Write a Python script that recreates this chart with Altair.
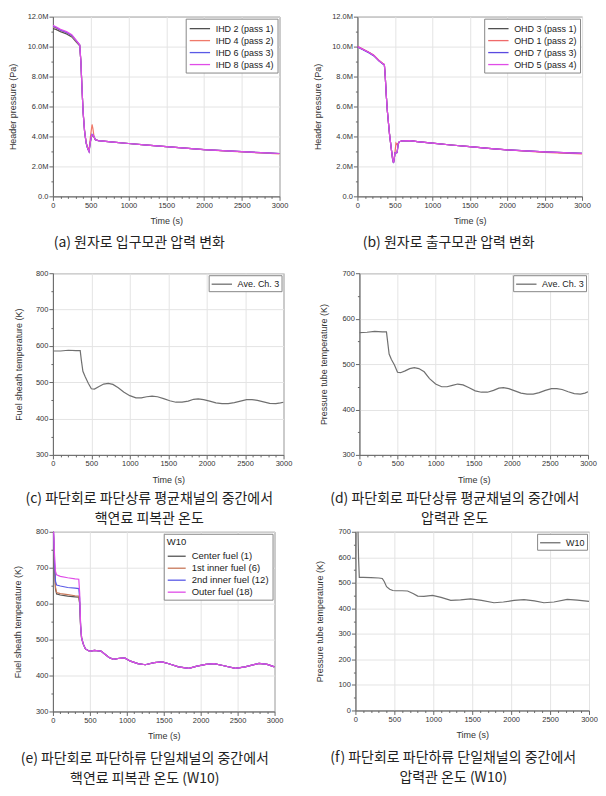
import altair as alt
import pandas as pd

FONT = "Liberation Sans"
KFONT = "Noto Sans CJK KR"

# ---------------- (a) inlet header pressure (values in M = 1e6 Pa)
time_a = [0, 40, 100, 180, 250, 310, 355, 370, 385, 400, 420, 440, 460, 478, 495, 510, 518, 530, 545, 562,
          600, 800, 1000, 1250, 1500, 1750, 2000, 2250, 2500, 2750, 3000]
ihd_2 = [11.20, 11.15, 11.00, 10.85, 10.65, 10.30, 10.05, 9.00, 7.20, 5.60, 4.30, 3.55, 3.20, 3.00, 3.60, 3.95,
         4.05, 4.05, 3.95, 3.78, 3.72, 3.62, 3.53, 3.42, 3.32, 3.22, 3.12, 3.05, 2.98, 2.92, 2.86]
ihd_4 = [11.30, 11.25, 11.08, 10.92, 10.72, 10.35, 10.10, 9.00, 7.20, 5.60, 4.30, 3.60, 3.30, 3.05, 3.90, 4.50,
         4.80, 4.50, 3.95, 3.80, 3.72, 3.62, 3.53, 3.42, 3.32, 3.22, 3.12, 3.04, 2.97, 2.90, 2.84]
ihd_6 = [11.35, 11.28, 11.10, 10.95, 10.75, 10.38, 10.10, 9.00, 7.20, 5.60, 4.30, 3.55, 3.20, 3.00, 3.65, 4.05,
         4.15, 4.10, 4.00, 3.78, 3.72, 3.62, 3.53, 3.42, 3.32, 3.22, 3.12, 3.05, 2.98, 2.92, 2.86]
ihd_8 = [11.42, 11.33, 11.15, 11.00, 10.80, 10.42, 10.12, 9.00, 7.20, 5.60, 4.30, 3.55, 3.20, 2.98, 3.60, 4.00,
         4.10, 4.10, 4.00, 3.78, 3.72, 3.62, 3.53, 3.42, 3.32, 3.22, 3.12, 3.05, 2.98, 2.92, 2.86]
names_a = ["IHD 2 (pass 1)", "IHD 4 (pass 2)", "IHD 6 (pass 3)", "IHD 8 (pass 4)"]
colors_a = ["#505050", "#f07a6a", "#5a5ae6", "#e04ce8"]

# ---------------- (b) outlet header pressure
time_b = [0, 60, 155, 220, 290, 340, 360, 372, 385, 400, 430, 457, 470, 482, 492, 502, 515, 530, 545, 560,
          600, 700, 800, 1000, 1250, 1500, 1750, 2000, 2250, 2500, 2750, 3000]
ohd_3 = [10.00, 9.85, 9.60, 9.40, 9.05, 8.85, 8.80, 8.00, 6.80, 5.70, 4.10, 3.00, 2.50, 2.25, 2.50, 2.90, 2.90,
         2.92, 3.50, 3.65, 3.70, 3.72, 3.66, 3.55, 3.43, 3.32, 3.20, 3.10, 3.03, 2.97, 2.92, 2.87]
ohd_1 = [10.02, 9.87, 9.62, 9.42, 9.07, 8.87, 8.82, 8.00, 6.80, 5.70, 4.10, 3.00, 2.50, 2.25, 2.55, 2.95, 3.55,
         3.45, 3.55, 3.65, 3.70, 3.72, 3.66, 3.55, 3.43, 3.32, 3.20, 3.10, 3.01, 2.94, 2.88, 2.83]
ohd_7 = [9.98, 9.83, 9.58, 9.38, 9.03, 8.83, 8.78, 8.00, 6.80, 5.70, 4.10, 3.00, 2.50, 2.22, 2.50, 2.90, 2.90,
         2.92, 3.50, 3.65, 3.70, 3.72, 3.66, 3.55, 3.43, 3.32, 3.20, 3.10, 3.03, 2.97, 2.92, 2.87]
ohd_5 = [10.00, 9.85, 9.60, 9.40, 9.05, 8.85, 8.80, 8.00, 6.80, 5.70, 4.10, 3.00, 2.50, 2.25, 2.50, 2.90, 2.90,
         2.92, 3.50, 3.65, 3.70, 3.72, 3.66, 3.55, 3.43, 3.32, 3.20, 3.10, 3.03, 2.97, 2.92, 2.87]
names_b = ["OHD 3 (pass 1)", "OHD 1 (pass 2)", "OHD 7 (pass 3)", "OHD 5 (pass 4)"]
colors_b = ["#505050", "#f06a6a", "#5a4ae0", "#e04ce8"]

# ---------------- (c) fuel sheath temp / (d) pressure tube temp, Ave. Ch. 3
time_cd = [0, 100, 200, 300, 355, 370, 390, 420, 460, 500, 540, 600, 660, 720, 780, 850, 920, 1000, 1080, 1150,
           1220, 1290, 1360, 1440, 1520, 1600, 1680, 1760, 1830, 1890, 1960, 2040, 2120, 2200, 2280, 2360, 2440,
           2520, 2590, 2660, 2740, 2820, 2900, 2960, 3000]
sheath_c = [586, 586, 588, 587, 587, 560, 530, 515, 497, 482, 481, 488, 495, 497, 494, 485, 473, 463, 457, 457,
            460, 462, 460, 455, 449, 445, 445, 448, 453, 454, 452, 448, 443, 441, 441, 444, 448, 452, 452, 450,
            446, 442, 441, 443, 445]
tube_d = [569, 570, 572, 571, 571, 550, 522, 510, 498, 482, 481, 485, 490, 492, 490, 483, 468, 456, 450, 450,
          453, 456, 454, 448, 441, 438, 438, 442, 447, 448, 446, 441, 436, 434, 434, 437, 442, 446, 446, 444,
          439, 435, 434, 436, 439]
names_cd = ["Ave. Ch. 3"]

# ---------------- (e) fuel sheath temp, W10
time_e = [0, 10, 22, 35, 50, 100, 200, 300, 350, 362, 375, 388, 410, 440, 500, 560, 650, 700, 760, 820, 900,
          970, 1050, 1150, 1250, 1370, 1480, 1580, 1700, 1840, 1950, 2070, 2180, 2300, 2470, 2600, 2790, 2900, 3000]
center_1 = [830, 780, 700, 640, 627, 624, 621, 619, 618, 600, 535, 505, 488, 474, 467, 470, 468, 460, 450, 445,
            448, 449, 440, 433, 430, 436, 438, 432, 424, 420, 426, 431, 433, 428, 420, 424, 434, 431, 424]
inner1_6 = [830, 785, 705, 645, 631, 628, 625, 622, 621, 603, 536, 505, 488, 474, 467, 470, 468, 460, 450, 445,
            448, 449, 440, 433, 430, 436, 438, 432, 424, 420, 426, 431, 433, 428, 420, 424, 434, 431, 424]
inner2_12 = [830, 790, 712, 662, 652, 649, 645, 643, 642, 615, 538, 505, 488, 474, 467, 470, 468, 460, 450, 445,
             448, 449, 440, 433, 430, 436, 438, 432, 424, 420, 426, 431, 433, 428, 420, 424, 434, 431, 424]
outer_18 = [830, 800, 735, 690, 680, 676, 672, 669, 668, 630, 540, 505, 488, 474, 467, 470, 468, 460, 450, 445,
            448, 449, 440, 433, 430, 436, 438, 432, 424, 420, 426, 431, 433, 428, 420, 424, 434, 431, 424]
names_e = ["Center fuel (1)", "1st inner fuel (6)", "2nd inner fuel (12)", "Outer fuel (18)"]
colors_e = ["#555555", "#c8785a", "#5a5ae6", "#e04ce8"]

# ---------------- (f) pressure tube temp, W10
time_f = [0, 5, 12, 30, 40, 50, 100, 200, 300, 345, 370, 400, 440, 480, 520, 600, 670, 740, 800, 880, 990, 1100,
          1225, 1350, 1480, 1620, 1780, 1900, 2037, 2165, 2300, 2421, 2550, 2720, 2850, 3000]
tube_f = [590, 720, 760, 760, 600, 521, 521, 520, 519, 517, 505, 485, 475, 470, 469, 469, 468, 458, 448, 447, 451,
          443, 431, 433, 437, 431, 422, 425, 431, 434, 429, 422, 425, 435, 432, 427]
names_f = ["W10"]

GREY = ["#707070"]


def to_long(t, names, series):
    rows = []
    for n, vals in zip(names, series):
        for tt, vv in zip(t, vals):
            rows.append({"t": tt, "v": vv, "s": n})
    return pd.DataFrame(rows)


def cond(step, major, minor):
    return {"condition": {"test": f"datum.value % {step} === 0", "value": major}, "value": minor}


def make_legend(path, label_offset, title=None, fs=9, pad=3):
    kw = dict(orient="top-right", symbolType=path, symbolSize=144, symbolStrokeWidth=1.3,
              strokeColor="#888", fillColor="white", padding=pad, offset=2, labelFont=FONT,
              labelFontSize=fs, labelColor="#222", rowPadding=0, labelOffset=label_offset)
    if title:
        kw.update(title=title, titleFont=FONT, titleFontSize=9.5, titleFontWeight="normal",
                  titleColor="#222", titlePadding=3)
    return alt.Legend(**kw)


def panel(df, names, colors, ydomain, yvals, ystep, ytitle, ylabel_expr, extent, width, height,
          caption, legend, offset, has_title, dx=-19):
    x = alt.X("t:Q", scale=alt.Scale(domain=[0, 3000], nice=False, zero=False),
              axis=alt.Axis(values=list(range(0, 3001, 100)), format="d",
                            labelExpr="datum.value % 500 === 0 ? datum.label : ''",
                            title="Time (s)", labelFlush=False, labelOverlap=False,
                            gridOpacity=cond(500, 1, 0), tickSize=cond(500, 4, 2),
                            titlePadding=8, labelPadding=1))
    y = alt.Y("v:Q", scale=alt.Scale(domain=ydomain, nice=False, zero=False),
              axis=alt.Axis(values=yvals, labelExpr=ylabel_expr, title=ytitle, labelOverlap=False,
                            gridOpacity=cond(ystep, 1, 0), tickSize=cond(ystep, 4, 2),
                            minExtent=extent, maxExtent=extent, titlePadding=3, labelPadding=1))
    if has_title:
        color = alt.Color("s:N", scale=alt.Scale(domain=names, range=colors), legend=legend)
    else:
        color = alt.Color("s:N", scale=alt.Scale(domain=names, range=colors), legend=legend, title=None)
    return alt.Chart(df).mark_line(strokeWidth=1.2, clip=True).encode(x=x, y=y, color=color).properties(
        width=width, height=height,
        title=alt.TitleParams(text=caption, orient="bottom", anchor="middle", frame="group", font=KFONT,
                              fontSize=14, fontWeight="normal", color="#222", offset=offset, lineHeight=20,
                              dx=dx))


p_expr = "datum.value % 2 === 0 ? (datum.value === 0 ? '0.0' : format(datum.value, '.1f') + 'M') : ''"
t_expr = "datum.value % 100 === 0 ? format(datum.value, 'd') : ''"

LONG = "M-1,0H2.4"   # ~20px line
SHORT = "M-1,0H2.0"  # ~18px line

pa = panel(to_long(time_a, names_a, [ihd_2, ihd_4, ihd_6, ihd_8]), names_a, colors_a, [0, 12],
           list(range(0, 13)), 2, "Header pressure (Pa)", p_expr, 32, 227, 180,
           ["(a) 원자로 입구모관 압력 변화"], make_legend(LONG, 13), 10, False, dx=-27)
pb = panel(to_long(time_b, names_b, [ohd_3, ohd_1, ohd_7, ohd_5]), names_b, colors_b, [0, 12],
           list(range(0, 13)), 2, "Header pressure (Pa)", p_expr, 32, 225, 180,
           ["(b) 원자로 출구모관 압력 변화"], make_legend(LONG, 13), 10, False, dx=-21)
pc = panel(to_long(time_cd, names_cd, [sheath_c]), names_cd, GREY, [300, 800],
           list(range(300, 801, 50)), 100, "Fuel sheath temperature (K)", t_expr, 26, 231, 182,
           ["(c) 파단회로 파단상류 평균채널의 중간에서", "핵연료 피복관 온도"], make_legend(LONG, 13, pad=2), 8, False)
pd_ = panel(to_long(time_cd, names_cd, [tube_d]), names_cd, GREY, [300, 700],
            list(range(300, 701, 50)), 100, "Pressure tube temperature (K)", t_expr, 28, 229, 182,
            ["(d) 파단회로 파단상류 평균채널의 중간에서", "압력관 온도"], make_legend(LONG, 13, pad=2), 8, False)
pe = panel(to_long(time_e, names_e, [center_1, inner1_6, inner2_12, outer_18]), names_e, colors_e, [300, 800],
           list(range(300, 801, 50)), 100, "Fuel sheath temperature (K)", t_expr, 27, 222, 180,
           ["(e) 파단회로 파단하류 단일채널의 중간에서", "핵연료 피복관 온도 (W10)"],
           make_legend(SHORT, 11, title="W10", fs=9.5), 11, True)
pf = panel(to_long(time_f, names_f, [tube_f]), names_f, GREY, [0, 700],
           list(range(0, 701, 50)), 100, "Pressure tube temperature (K)", t_expr, 28, 234, 179,
           ["(f) 파단회로 파단하류 단일채널의 중간에서", "압력관 온도 (W10)"], make_legend(LONG, 13, pad=2), 11, False)


def row(left, right, sp):
    return alt.hconcat(left, right, spacing=sp).resolve_scale(color="independent").resolve_legend(
        color="independent")


top = alt.vconcat(row(pa, pb, 24), row(pc, pd_, 26), spacing=18).resolve_scale(
    color="independent").resolve_legend(color="independent")

chart = alt.vconcat(top, row(pe, pf, 31), spacing=0).resolve_scale(color="independent").resolve_legend(
    color="independent").properties(
    padding={"left": 0, "top": 3, "right": 0, "bottom": 0}
).configure_view(stroke="#666", strokeWidth=1).configure_axis(
    labelFont=FONT, titleFont=FONT, labelFontSize=7.5, titleFontSize=9, labelColor="#333",
    titleColor="#333", titleFontWeight="normal", domainColor="#666", tickColor="#666",
    gridColor="#e4e4e4", domain=True
)

chart.save("out.html", embed_options={"renderer": "svg", "actions": False})
